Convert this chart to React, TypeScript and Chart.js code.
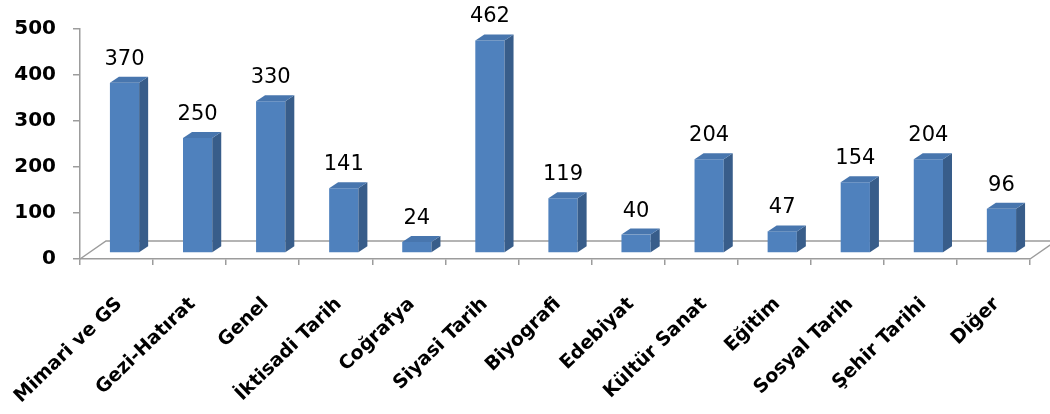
import React, { useEffect, useRef } from "react";
import { Chart, registerables } from "chart.js";

Chart.register(...registerables);

const categories = [
  "Mimari ve GS",
  "Gezi-Hatırat",
  "Genel",
  "İktisadi Tarih",
  "Coğrafya",
  "Siyasi Tarih",
  "Biyografi",
  "Edebiyat",
  "Kültür Sanat",
  "Eğitim",
  "Sosyal Tarih",
  "Şehir Tarihi",
  "Diğer",
];
const values = [370, 250, 330, 141, 24, 462, 119, 40, 204, 47, 154, 204, 96];
const yMin = 0;
const yMax = 500;
const yStep = 100;

const FRONT_DX = 8;
const FRONT_DY = -6;
const BAR_DX = 9;
const BAR_DY = -6;
const FLOOR_DX = 26;
const FLOOR_DY = -18;
const AXIS_COLOR = "#9c9c9c";
const FRONT_COLOR = "#4f81bd";
const SIDE_COLOR = "#385d8a";
const TOP_COLOR = "#4876ae";

const threeD = {
  id: "threeD",
  beforeDatasetsDraw(chart: any) {
    const ctx = chart.ctx;
    const area = chart.chartArea;
    const y0 = chart.scales.y.getPixelForValue(0);
    ctx.save();
    ctx.strokeStyle = AXIS_COLOR;
    ctx.lineWidth = 1.5;
    ctx.beginPath();
    ctx.moveTo(area.left, y0);
    ctx.lineTo(area.left + FLOOR_DX, y0 + FLOOR_DY);
    ctx.lineTo(area.right + FLOOR_DX, y0 + FLOOR_DY);
    ctx.lineTo(area.right, y0);
    ctx.stroke();
    ctx.restore();
    ctx.save();
    ctx.translate(FRONT_DX, FRONT_DY);
  },
  afterDatasetsDraw(chart: any) {
    const ctx = chart.ctx;
    ctx.restore();
    const meta = chart.getDatasetMeta(0);
    ctx.save();
    meta.data.forEach((el: any, i: number) => {
      const p = el.getProps(["x", "y", "base", "width"], true);
      const l = p.x - p.width / 2 + FRONT_DX;
      const r = p.x + p.width / 2 + FRONT_DX;
      const t = p.y + FRONT_DY;
      const b = p.base + FRONT_DY;
      // side face
      ctx.fillStyle = SIDE_COLOR;
      ctx.beginPath();
      ctx.moveTo(r, t);
      ctx.lineTo(r + BAR_DX, t + BAR_DY);
      ctx.lineTo(r + BAR_DX, b + BAR_DY);
      ctx.lineTo(r, b);
      ctx.closePath();
      ctx.fill();
      // top face
      ctx.fillStyle = TOP_COLOR;
      ctx.beginPath();
      ctx.moveTo(l, t);
      ctx.lineTo(l + BAR_DX, t + BAR_DY);
      ctx.lineTo(r + BAR_DX, t + BAR_DY);
      ctx.lineTo(r, t);
      ctx.closePath();
      ctx.fill();
      // label
      ctx.fillStyle = "#000";
      ctx.font = "21px 'DejaVu Sans'";
      ctx.textAlign = "center";
      ctx.textBaseline = "alphabetic";
      ctx.fillText(String(values[i]), (l + r) / 2, p.y - 24);
    });
    ctx.restore();
  },
};

export default function App() {
  const ref = useRef<HTMLCanvasElement>(null);
  useEffect(() => {
    if (!ref.current) return;
    const chart = new Chart(ref.current, {
      type: "bar",
      data: {
        labels: categories,
        datasets: [
          {
            data: values,
            backgroundColor: FRONT_COLOR,
            borderWidth: 0,
            categoryPercentage: 1,
            barPercentage: 0.4,
            clip: false as any,
          },
        ],
      },
      options: {
        animation: false,
        responsive: false,
        layout: { padding: { top: 28, right: 20, left: 0, bottom: 0 } },
        plugins: { legend: { display: false }, tooltip: { enabled: false } },
        scales: {
          x: {
            afterFit(scale: any) {
              scale.height = 155;
              scale.paddingLeft = 0;
              scale.paddingRight = 0;
            },
            grid: {
              drawOnChartArea: false,
              drawTicks: true,
              tickLength: 6,
              color: AXIS_COLOR,
              lineWidth: 1.5,
            },
            border: { display: true, color: AXIS_COLOR, width: 1.5 },
            ticks: {
              minRotation: 44,
              maxRotation: 44,
              autoSkip: false,
              padding: 28,
              labelOffset: 3,
              color: "#000",
              font: { family: "'DejaVu Sans'", size: 19, weight: "bold" },
            },
          },
          y: {
            min: yMin,
            max: yMax,
            afterFit(scale: any) {
              scale.width = 80;
            },
            grid: {
              drawOnChartArea: false,
              drawTicks: true,
              tickLength: 7,
              color: AXIS_COLOR,
              lineWidth: 1.5,
            },
            border: { display: true, color: AXIS_COLOR, width: 1.5 },
            ticks: {
              stepSize: yStep,
              padding: 17,
              color: "#000",
              font: { family: "'DejaVu Sans'", size: 20, weight: "bold" },
            },
          },
        },
      },
      plugins: [threeD],
    });
    return () => chart.destroy();
  }, []);
  return (
    <div style={{ position: "fixed", left: 0, top: 0, width: 1050, height: 414, background: "#fff" }}>
      <canvas ref={ref} width={1050} height={414} style={{ display: "block" }} />
    </div>
  );
}
